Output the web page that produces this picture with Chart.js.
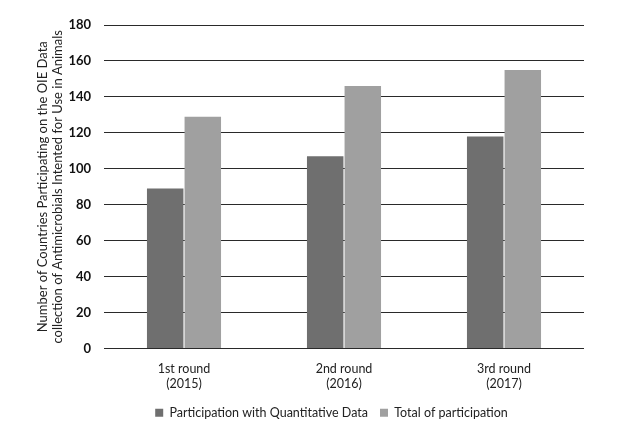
<!DOCTYPE html>
<html>
<head>
<meta charset="utf-8">
<script src="https://cdn.jsdelivr.net/npm/chart.js@4"></script>
<style>
  html, body { margin: 0; padding: 0; background: #fff; }
  #wrap { width: 640px; height: 433px; }
</style>
</head>
<body>
<div id="wrap"><canvas id="roundsChart" width="640" height="433"></canvas></div>
<script>
        // Datos
        const rondas = [['1st round', '(2015)'], ['2nd round', '(2016)'], ['3rd round', '(2017)']];
        const cuantitativos = [89, 107, 118];
        const totales = [129, 146, 155];
        const nombresSeries = ['Participation with Quantitative Data', 'Total of participation'];
        const tituloEjeY = ['Number of Countries Participating on the OIE Data',
                            'collection of Antimicrobials Intented for Use in Animals'];
        const yMin = 0, yMax = 180, yPaso = 20;

        const fuente = 'Lato, "Liberation Sans", sans-serif';

        // Mover la leyenda un poco a la derecha (como en el original)
        const correrLeyenda = {
            id: 'correrLeyenda',
            afterLayout(chart) {
                chart.legend.left += 22;
                chart.legend.right += 22;
            }
        };

        // Inicializar grafico
        function initChart() {
            const ctx = document.getElementById('roundsChart').getContext('2d');
            new Chart(ctx, {
                type: 'bar',
                data: {
                    labels: rondas,
                    datasets: [{
                        label: nombresSeries[0],
                        data: cuantitativos,
                        backgroundColor: '#6f6f6f'
                    }, {
                        label: nombresSeries[1],
                        data: totales,
                        backgroundColor: '#a0a0a0'
                    }]
                },
                options: {
                    responsive: false,
                    animation: false,
                    devicePixelRatio: 1,
                    datasets: {
                        bar: { categoryPercentage: 0.47, barPercentage: 0.97 }
                    },
                    layout: { padding: { top: 25, right: 56, left: 35, bottom: 4 } },
                    plugins: {
                        tooltip: { enabled: false },
                        legend: {
                            position: 'bottom',
                            labels: {
                                boxWidth: 8,
                                boxHeight: 8,
                                padding: 12,
                                color: '#222',
                                font: { family: fuente, size: 12.5 }
                            }
                        }
                    },
                    scales: {
                        x: {
                            grid: { display: false, drawTicks: false },
                            border: { display: false },
                            afterFit(scale) { scale.height = 46; },
                            ticks: {
                                color: '#222',
                                padding: 13,
                                font: { family: fuente, size: 12.5 }
                            }
                        },
                        y: {
                            min: yMin,
                            max: yMax,
                            grid: { color: '#2a2a2a', lineWidth: 1, drawTicks: false },
                            border: { display: false },
                            afterFit(scale) { scale.width = 69; },
                            ticks: {
                                stepSize: yPaso,
                                color: '#111',
                                padding: 13,
                                font: { family: fuente, size: 13, weight: 'bold' }
                            },
                            title: {
                                display: true,
                                text: tituloEjeY,
                                color: '#222',
                                padding: { top: 0, bottom: 0 },
                                font: { family: fuente, size: 13, lineHeight: 1.15 }
                            }
                        }
                    }
                },
                plugins: [correrLeyenda]
            });
        }

        initChart();
</script>
</body>
</html>
